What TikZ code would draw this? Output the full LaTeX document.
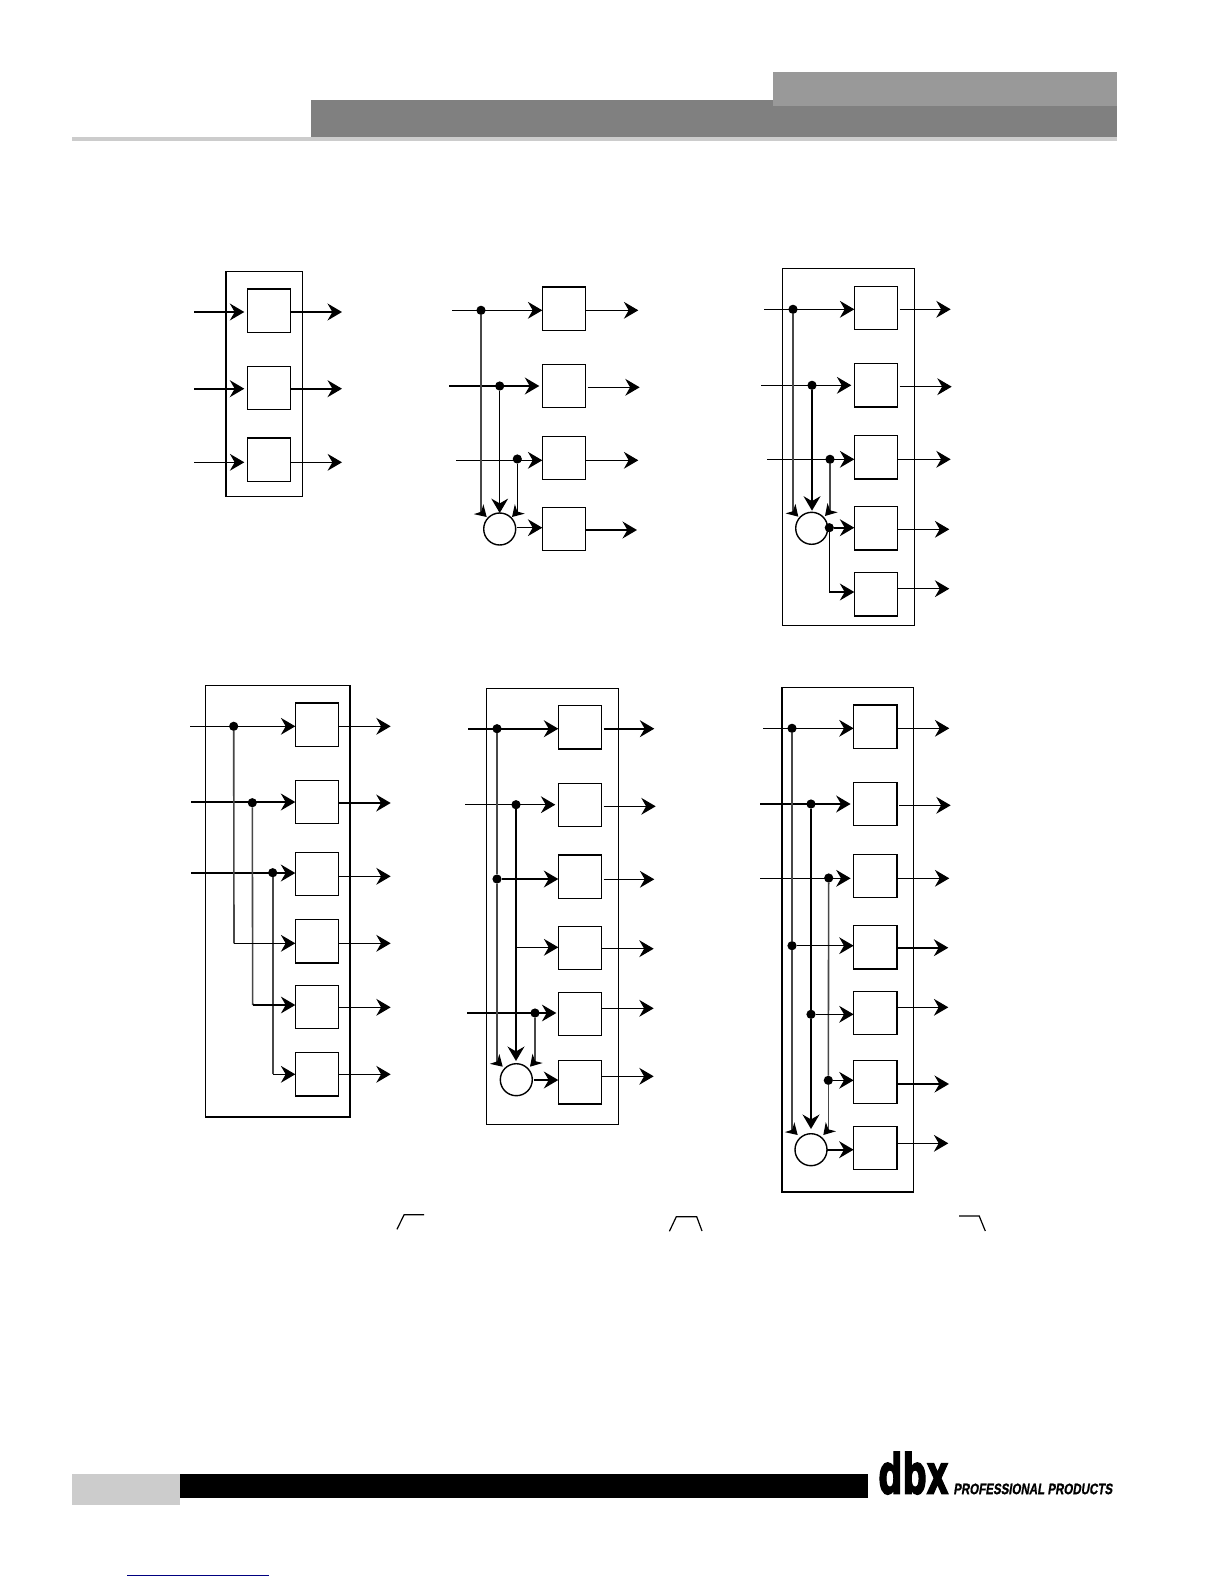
\documentclass[tikz,border=0pt]{standalone}
\usepackage{fontspec}
\setmainfont{Liberation Sans}
\newfontfamily\logofont[BoldFeatures={FakeBold=3}]{DejaVu Sans}
\newfontfamily\tagfont[BoldFeatures={FakeBold=1.2,FakeSlant=0.2}]{Liberation Sans}
\usetikzlibrary{arrows.meta}
\tikzset{
  thinw/.style={line width=0.6pt,black},
  thickw/.style={line width=1.1pt,black},
  greyw/.style={line width=0.8pt,black!72},
  arr/.style={-{Stealth[length=7.2pt,width=8.4pt,inset=2.4pt]}},
  smallarr/.style={-{Stealth[length=5.6pt,width=6.8pt,inset=1.8pt]}},
  mbox/.style={draw=black,line width=0.6pt,fill=white,minimum width=21.7pt,minimum height=21.7pt,inner sep=0pt,outer sep=0pt},
  sumc/.style={circle,draw=black,line width=0.7pt,fill=white,minimum size=16pt,inner sep=0pt,outer sep=0pt},
  jdot/.style={circle,fill=black,minimum size=4.6pt,inner sep=0pt,outer sep=0pt},
  frame/.style={draw=black,line width=0.6pt},
  heavy/.style={line width=1.1pt,black},
  gap/.style={shorten >=1.5pt},
  gapo/.style={shorten <=1pt},
  slopeline/.style={line width=0.6pt,black},
}
% box: name, x, y
\newcommand\bx[3]{\node[mbox] (#1) at (#2,#3) {};}
% input: style, name, x, y, box
\newcommand\ain[5]{\coordinate (#2) at (#3,#4); \draw[arr,#1] (#2) -- (#2 -| #5.west);}
% output: style, name, tip x, y, box
\newcommand\aout[5]{\coordinate (#2) at (#3,#4); \draw[arr,#1] (#2 -| #5.east) -- (#2);}
% tilted tip into a summer: style, junction, tip name, x, y
\newcommand\tl[5]{\coordinate (#3) at (#4,#5); \draw[#1,shorten >=1pt] (#2) -- (#2 |- #3); \draw[smallarr,thinw] (#2 |- #3) ++(0,-5.5) -- (#3);}
\newcommand\jn[3]{\node[jdot] (#1) at (#2,#3) {};}
\begin{document}
\begin{tikzpicture}[x=0.5pt,y=-0.5pt]
\useasboundingbox (0,0) rectangle (1224,1584);
\fill[white] (0,0) rectangle (1224,1584);
% header
\fill[black!50] (310.7,100) rectangle (1117,137);
\fill[black!40] (772.8,72) rectangle (1117,105.7);
\fill[black!20] (71.7,137) rectangle (1117,141);
% footer
\fill[black!20] (71.7,1474) rectangle (179.8,1505);
\fill[black] (179.8,1474) rectangle (867.9,1498);
\fill[blue!50!black] (126.8,1574.6) rectangle (268.7,1576);
\node[anchor=south west,inner sep=0pt] (logo) at (878,1494.7) {\resizebox{35pt}{20.8pt}{\logofont\bfseries dbx}};
\node[anchor=south west,inner sep=0pt] (tagline) at (953,1494.7) {\resizebox{79.4pt}{5.3pt}{\tagfont\bfseries PROFESSIONAL PRODUCTS}};
% slope marks
\draw[slopeline] (397,1229.3) -- (404.1,1214.7) -- (424.1,1214.7);
\draw[slopeline] (669.4,1231.3) -- (676.3,1216.7) -- (696.7,1216.7) -- (702,1231);
\draw[slopeline] (959.2,1216) -- (979.2,1216) -- (985.3,1231);

% ---------- Diagram 1
\draw[frame] (225.7,271.7) rectangle (302.3,496.3);
\draw[heavy] (225.7,271.7) -- (225.7,496.3);
\bx{a1}{269}{310.5}\bx{a2}{269}{388}\bx{a3}{269}{459.7}
\draw[heavy] (a1.north west) -- (a1.north east); \draw[heavy] (a3.north west) -- (a3.north east);
\ain{thickw,gap}{as1}{194}{312}{a1}
\ain{thickw,gap}{as2}{194}{388.7}{a2}
\ain{thinw,gap}{as3}{194}{462.3}{a3}
\aout{thickw}{ao1}{342}{312}{a1}
\aout{thickw}{ao2}{342}{388.7}{a2}
\aout{thinw}{ao3}{342}{462.3}{a3}

% ---------- Diagram 2
\bx{b1}{564}{308.5}\bx{b2}{564}{385.8}\bx{b3}{564}{457.8}\bx{b4}{564}{528.8}
\draw[heavy] (b1.north west) -- (b1.north east);
\node[sumc] (bc) at (499.7,529) {};
\ain{thinw}{bs1}{452}{310.3}{b1}
\ain{thickw,shorten >=1.5pt}{bs2}{449}{386}{b2}
\ain{thinw}{bs3}{456}{460.3}{b3}
\jn{bj1}{481}{310.3}\jn{bj2}{499.7}{386}\jn{bj3}{517.3}{459}
\tl{greyw}{bj1}{bt1}{486.7}{517}
\tl{thinw}{bj3}{bt3}{512}{517}
\draw[arr,thinw] (bj2) -- (bc.north);
\coordinate (bm) at (517.3,527.7); \draw[arr,thinw] (bm) -- (bm -| b4.west);
\aout{thinw}{bo1}{638.3}{310.3}{b1}
\aout{thinw,gapo}{bo2}{639.7}{387.3}{b2}
\aout{thinw}{bo3}{638.3}{460.3}{b3}
\aout{thickw}{bo4}{637}{530}{b4}

% ---------- Diagram 3
\draw[frame] (782.3,268.3) rectangle (914.7,625.3);
\bx{c1}{876}{307.8}\bx{c2}{876}{385.2}\bx{c3}{876}{457.2}\bx{c4}{876}{528.3}\bx{c5}{876}{594.3}
\draw[heavy] (c2.south west) -- (c2.south east); \draw[heavy] (c3.south west) -- (c3.south east); \draw[heavy] (c5.south west) -- (c5.south east);
\node[sumc] (cc) at (811.7,528.3) {};
\ain{thinw}{cs1}{764}{309.3}{c1}
\ain{thinw,shorten >=1.5pt}{cs2}{761}{385.3}{c2}
\ain{thinw}{cs3}{767}{459.3}{c3}
\jn{cj1}{793}{309.3}\jn{cj2}{812}{385.3}\jn{cj3}{830}{459.3}\jn{cj4}{829.3}{527.7}
\tl{greyw}{cj1}{ct1}{798.3}{516.7}
\tl{greyw}{cj3}{ct3}{825}{516}
\coordinate (ctm) at (812,510.7); \draw[arr,thickw] (cj2) -- (ctm);
\draw[arr,thickw] (cj4) -- (cj4 -| c4.west);
\coordinate (cv) at (829.3,592); \draw[thinw] (cj4) -- (cv);
\draw[arr,thickw] (cv) -- (cv -| c5.west);
\aout{thinw,gapo}{co1}{950.7}{309.3}{c1}
\aout{thinw,gapo}{co2}{951.7}{386.7}{c2}
\aout{thinw}{co3}{950.7}{459.3}{c3}
\aout{thinw}{co4}{949.3}{529.3}{c4}
\aout{thinw}{co5}{949.3}{588.7}{c5}

% ---------- Diagram 4
\draw[frame] (205.7,685.3) rectangle (350,1117);
\draw[heavy] (350,685.3) -- (350,1117) -- (205.7,1117);
\bx{d1}{317}{724.7}\bx{d2}{317}{801.8}\bx{d3}{317}{873.8}\bx{d4}{317}{941}\bx{d5}{317}{1006.8}\bx{d6}{317}{1074.2}
\draw[heavy] (d1.north west) -- (d1.north east); \draw[heavy] (d4.south west) -- (d4.south east); \draw[heavy] (d6.south west) -- (d6.south east);
\ain{thinw}{ds1}{190}{726.3}{d1}
\ain{thickw}{ds2}{191}{802}{d2}
\ain{thickw}{ds3}{191}{873}{d3}
\jn{dj1}{233.7}{726.3}\jn{dj2}{252.3}{802.7}\jn{dj3}{272.7}{872.7}
\coordinate (dv1) at (234,943.3); \coordinate (dv2) at (252.7,1005); \coordinate (dv3) at (272.7,1074.3);
\draw[greyw] (dj1) -- (dv1); \draw[greyw] (dj2) -- (dv2); \draw[greyw] (dj3) -- (dv3);
\draw[arr,thinw] (dv1) -- (dv1 -| d4.west);
\draw[arr,thinw] (dv2) -- (dv2 -| d5.west);
\draw[arr,thinw] (dv3) -- (dv3 -| d6.west);
\aout{thinw}{do1}{390.7}{726.3}{d1}
\aout{thickw}{do2}{390.7}{803}{d2}
\aout{thinw}{do3}{390.7}{876.3}{d3}
\aout{thinw}{do4}{390.7}{943.3}{d4}
\aout{thinw}{do5}{390.7}{1007.3}{d5}
\aout{thinw}{do6}{390.7}{1074.3}{d6}

% ---------- Diagram 5
\draw[frame] (486.3,688.3) rectangle (618.7,1124.3);
\bx{e1}{580}{727.3}\bx{e2}{580}{804.8}\bx{e3}{580}{876.5}\bx{e4}{580}{947.8}\bx{e5}{580}{1013.8}\bx{e6}{580}{1082.3}
\draw[heavy] (e3.north west) -- (e3.north east); \draw[heavy] (e6.south west) -- (e6.south east);
\node[sumc] (ec) at (516.3,1079.7) {};
\ain{thickw}{es1}{468}{728.7}{e1}
\ain{thinw,shorten >=1.5pt}{es2}{465}{804.7}{e2}
\ain{thinw,shorten >=1pt}{es5}{467}{1013}{e5}
\jn{ej1}{497}{728.7}\jn{ej2}{516}{804.7}\jn{ej3}{497}{879}\jn{ej5}{535}{1013}
\draw[greyw] (ej1) -- (ej3);
\tl{greyw}{ej3}{et1}{502.7}{1066.7}
\tl{greyw}{ej5}{et3}{530}{1066.7}
\coordinate (etm) at (516,1061); \draw[arr,thickw] (ej2) -- (etm);
\draw[arr,thickw] (ej3) -- (ej3 -| e3.west);
\coordinate (ev) at (516,947.3); \draw[arr,thinw] (ev) -- (ev -| e4.west);
\coordinate (em) at (534,1080); \draw[arr,thickw] (em) -- (em -| e6.west);
\aout{thickw,gapo}{eo1}{654.3}{728.7}{e1}
\aout{thinw,gapo}{eo2}{655.7}{806.3}{e2}
\aout{thinw,gapo}{eo3}{654.3}{879.3}{e3}
\aout{thinw}{eo4}{653.7}{948.7}{e4}
\aout{thinw}{eo5}{653.7}{1008.3}{e5}
\aout{thinw}{eo6}{653.7}{1076.3}{e6}

% ---------- Diagram 6
\draw[frame] (782,687.3) rectangle (913.7,1192);
\draw[heavy] (782,687.3) -- (782,1192);
\bx{f1}{875.3}{726.5}\bx{f2}{875.3}{803.8}\bx{f3}{875.3}{875.8}\bx{f4}{875.3}{947.3}\bx{f5}{875.3}{1012.8}\bx{f6}{875.3}{1081.8}\bx{f7}{875.3}{1147.8}
\draw[heavy] (f1.north west) -- (f1.north east); \draw[heavy] (f4.south west) -- (f4.south east);
\node[sumc] (fc) at (811,1149.7) {};
\ain{thinw}{fs1}{763}{728.3}{f1}
\ain{thickw,shorten >=1.5pt}{fs2}{760}{804}{f2}
\ain{thinw,shorten >=1.5pt}{fs3}{760}{878.3}{f3}
\jn{fj1}{792}{728.3}\jn{fj2}{811}{804}\jn{fj3}{828.7}{878}\jn{fj4}{792}{945.7}\jn{fj5}{811}{1014.3}\jn{fj6}{828.3}{1080.3}
\draw[greyw] (fj1) -- (fj4); \draw[greyw] (fj3) -- (fj6);
\tl{greyw}{fj4}{ft1}{797.7}{1135}
\tl{greyw}{fj6}{ft3}{823.3}{1135}
\draw[thickw] (fj2) -- (fj5);
\coordinate (ftm) at (811,1129); \draw[arr,thickw] (fj5) -- (ftm);
\draw[arr,thinw] (fj4) -- (fj4 -| f4.west);
\draw[arr,thinw] (fj5) -- (fj5 -| f5.west);
\draw[arr,thinw] (fj6) -- (fj6 -| f6.west);
\coordinate (fm) at (827.3,1149.7); \draw[arr,thickw] (fm) -- (fm -| f7.west);
\aout{thinw}{fo1}{949.3}{728.3}{f1}
\aout{thinw,gapo}{fo2}{950.7}{805.3}{f2}
\aout{thinw}{fo3}{949.3}{878.3}{f3}
\aout{thickw}{fo4}{948.3}{947.7}{f4}
\aout{thinw}{fo5}{948.3}{1007.3}{f5}
\aout{thickw}{fo6}{949}{1084}{f6}
\aout{thinw}{fo7}{948.3}{1143.3}{f7}
\end{tikzpicture}
\end{document}
